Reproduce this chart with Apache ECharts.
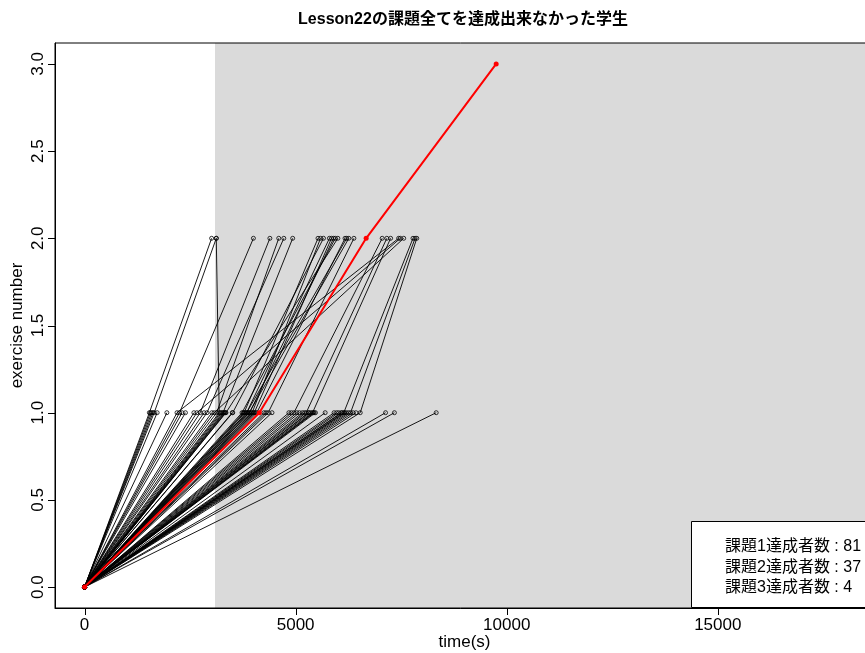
<!DOCTYPE html>
<html>
<head>
<meta charset="utf-8">
<script src="https://cdn.jsdelivr.net/npm/echarts@6/dist/echarts.min.js"></script>
<style>
  html, body { margin: 0; padding: 0; background: #fff; }
  #chart { width: 865px; height: 653px; }
</style>
</head>
<body>
<div id="chart"></div>
<script>
// Time (s) at which each student reached exercise 1 and stopped there
const ex1Only = [1560, 1590, 1620, 1720, 1950, 2310, 2390, 2590, 2830, 3015,
  3220, 3250, 3300, 3320, 3340, 3500, 3760, 3800, 3870, 3950, 4000, 4050,
  4250, 4300, 4440, 4840, 4900, 5030, 5090, 5160, 5210, 5300, 5320, 5360,
  5420, 5440, 5470, 5700, 5910, 5970, 6020, 6080, 6100, 6160, 6200, 6250,
  6360, 6430, 7130, 7340, 8330];

// Students who reached exercise 2: time of exercise 1 and of exercise 2
const ex2First = [1535, 1650, 3190, 2250, 2740, 3130, 2900, 3280, 3780, 3970,
  3510, 3840, 4020, 3730, 3910, 3350, 4080, 3840, 3900, 4350, 4960, 5250,
  5400, 2190, 2660, 3070, 6140, 6300, 6530];
const ex2Second = [3010, 3120, 3120, 4000, 4390, 4600, 4720, 4930, 5530, 5590,
  5660, 5800, 5850, 5940, 5900, 6000, 6170, 6210, 6260, 6380, 7050, 7160,
  7250, 7440, 7480, 7560, 7780, 7830, 7870];

// The one student who reached exercise 3 (highlighted)
const highlightTimes = [4140, 6670, 9750];

const xTicks = [0, 5000, 10000, 15000];
const yTicks = [0, 0.5, 1, 1.5, 2, 2.5, 3];
const shadeStart = 3090;
const summaryLabels = ['課題1達成者数', '課題2達成者数', '課題3達成者数'];
const summaryCounts = [81, 37, 4];

const X_MIN = -700, X_MAX = 18700, Y_MIN = -0.12, Y_MAX = 3.12;
const FONT = '"Liberation Sans", Arial, "Noto Sans CJK JP", sans-serif';
const TICK_LEN = 7;

function blackStudent(times) {
  const data = [[0, 0]];
  times.forEach((t, i) => data.push([t, i + 1]));
  return {
    type: 'line',
    data: data,
    symbol: 'circle',
    symbolSize: 4,
    itemStyle: { color: 'rgba(0,0,0,0)', borderColor: '#000', borderWidth: 0.8 },
    lineStyle: { color: '#000', width: 0.9 },
    emphasis: { disabled: true },
    silent: true,
    animation: false,
    z: 2
  };
}

const series = [];
ex1Only.forEach(t => series.push(blackStudent([t])));
ex2First.forEach((t, i) => series.push(blackStudent([t, ex2Second[i]])));

// shaded region behind every line
series[0].markArea = {
  silent: true,
  itemStyle: { color: '#DADADA', opacity: 1 },
  label: { show: false },
  data: [[{ xAxis: shadeStart }, { xAxis: X_MAX }]]
};

const hlData = [[0, 0]];
highlightTimes.forEach((t, i) => hlData.push([t, i + 1]));
series.push({
  type: 'line',
  data: hlData,
  symbol: 'circle',
  symbolSize: 5,
  itemStyle: { color: '#FF0000' },
  lineStyle: { color: '#FF0000', width: 2 },
  emphasis: { disabled: true },
  silent: true,
  animation: false,
  z: 3
});

// outward tick marks on the bottom and left edges of the plot box
function tickSeries(data, vertical) {
  return {
    type: 'custom',
    data: data,
    encode: { x: 0, y: 1 },
    silent: true,
    animation: false,
    clip: false,
    z: 6,
    renderItem: function (params, api) {
      const p = api.coord([api.value(0), api.value(1)]);
      const shape = vertical
        ? { x1: Math.round(p[0]) + 0.5, y1: p[1], x2: Math.round(p[0]) + 0.5, y2: p[1] + TICK_LEN }
        : { x1: p[0], y1: Math.round(p[1]) + 0.5, x2: p[0] - TICK_LEN, y2: Math.round(p[1]) + 0.5 };
      return { type: 'line', shape: shape, style: { stroke: '#000', lineWidth: 1 } };
    }
  };
}
series.push(tickSeries(xTicks.map(v => [v, Y_MIN]), true));
series.push(tickSeries(yTicks.map(v => [X_MIN, v]), false));

const chart = echarts.init(document.getElementById('chart'), null, { renderer: 'canvas' });

// title and the summary box in the lower right corner
const graphics = [
  {
    type: 'text', x: 463, y: 20, z: 100,
    style: {
      text: 'Lesson22の課題全てを達成出来なかった学生',
      font: 'bold 16px ' + FONT, fill: '#000',
      align: 'center', verticalAlign: 'middle'
    }
  },
  {
    type: 'rect', z: 100,
    shape: { x: 691.5, y: 521.5, width: 200, height: 86 },
    style: { fill: '#fff', stroke: '#000', lineWidth: 1 }
  }
];
summaryLabels.forEach((lab, i) => {
  graphics.push({
    type: 'text', z: 101,
    x: 725,
    y: 547 + i * 20.5,
    style: {
      text: lab + ' : ' + summaryCounts[i],
      font: '16px ' + FONT,
      fill: '#000',
      align: 'left',
      verticalAlign: 'middle'
    }
  });
});

const axisBase = {
  type: 'value',
  axisLine: { show: true, onZero: false, lineStyle: { color: '#000', width: 1 } },
  axisTick: { show: false },
  splitLine: { show: false },
  nameLocation: 'middle',
  nameMoveOverlap: false,
  nameTextStyle: { color: '#000', fontSize: 17, fontFamily: FONT }
};

chart.setOption({
  backgroundColor: '#fff',
  animation: false,
  grid: {
    left: 55, top: 43, width: 819, height: 565,
    outerBoundsMode: 'none', containLabel: false,
    show: true, borderColor: '#000', borderWidth: 1,
    backgroundColor: 'transparent', z: 5
  },
  xAxis: Object.assign({}, axisBase, {
    min: X_MIN, max: X_MAX,
    axisLabel: {
      customValues: xTicks, color: '#000', fontSize: 17, fontFamily: FONT, margin: 9,
      formatter: v => String(v)
    },
    name: 'time(s)', nameGap: 26
  }),
  yAxis: Object.assign({}, axisBase, {
    min: Y_MIN, max: Y_MAX,
    axisLabel: {
      customValues: yTicks, rotate: 90, color: '#000', fontSize: 17, fontFamily: FONT, margin: 8,
      formatter: v => Number(v).toFixed(1)
    },
    name: 'exercise number', nameGap: 29
  }),
  graphic: graphics,
  series: series
});
</script>
</body>
</html>
